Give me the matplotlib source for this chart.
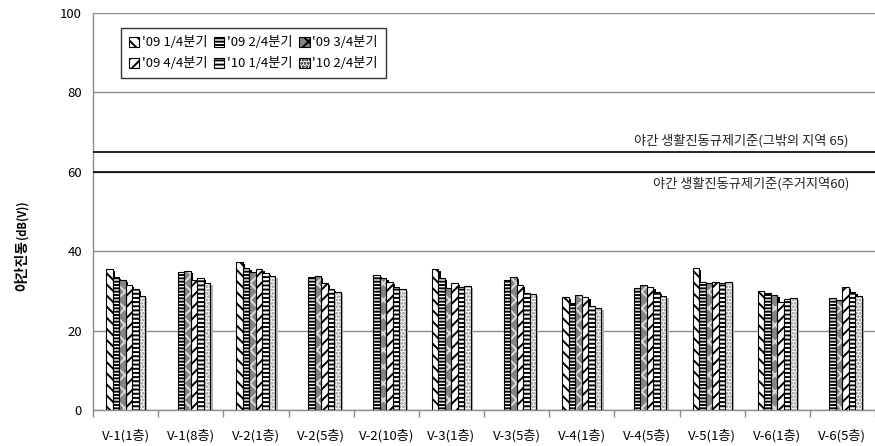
import numpy as np
import matplotlib
matplotlib.use("Agg")
import matplotlib.pyplot as plt
from matplotlib.patches import Patch

plt.rcParams['font.family'] = ['Noto Sans CJK KR', 'DejaVu Sans']
plt.rcParams['hatch.linewidth'] = 1.4

sites = ['V-1(1층)', 'V-1(8층)', 'V-2(1층)', 'V-2(5층)', 'V-2(10층)', 'V-3(1층)',
         'V-3(5층)', 'V-4(1층)', 'V-4(5층)', 'V-5(1층)', 'V-6(1층)', 'V-6(5층)']
quarters = ["'09 1/4분기", "'09 2/4분기", "'09 3/4분기",
            "'09 4/4분기", "'10 1/4분기", "'10 2/4분기"]

nan = np.nan
q09_1 = [35.4, nan, 37.2, nan, nan, 35.4, nan, 28.5, nan, 35.7, 29.9, nan]
q09_2 = [33.6, 34.8, 35.7, 33.6, 34.0, 33.2, 32.7, 26.9, 30.7, 32.2, 29.5, 28.3]
q09_3 = [32.7, 35.1, 34.8, 33.8, 33.2, 30.8, 33.4, 28.9, 31.4, 31.9, 29.0, 27.7]
q09_4 = [31.6, 32.7, 35.4, 31.9, 32.3, 31.9, 31.6, 28.5, 30.9, 32.2, 27.3, 30.9]
q10_1 = [30.5, 33.2, 34.6, 30.6, 30.9, 31.1, 29.4, 26.3, 29.6, 31.9, 28.0, 29.6]
q10_2 = [28.8, 31.9, 33.8, 29.6, 30.6, 31.3, 29.1, 25.8, 28.8, 32.3, 28.1, 28.8]
series = [q09_1, q09_2, q09_3, q09_4, q10_1, q10_2]

limit_other = 65
limit_home = 60

# fill colour, hatch pattern, hatch colour per quarter
styles = [
    ('white', '\\\\\\', 'black'),
    ('white', '-----', 'black'),
    ('#858585', 'xx', '#dcdcdc'),
    ('white', '///', 'black'),
    ('white', '----', 'black'),
    ('white', '.....', '#888888'),
]

fig = plt.figure(figsize=(8.75, 4.46), dpi=100)
ax = fig.add_axes([0.1063, 0.0807, 0.8937, 0.8902])

x = np.arange(len(sites))
w = 0.1
dx, dy = 0.035, 0.5

for j, vals in enumerate(series):
    vals = np.array(vals)
    pos = x + (j - 2.5) * w
    ok = ~np.isnan(vals)
    # drop shadow behind each bar
    shade = 'black' if j < len(series) - 1 else '#b0b0b0'
    ax.bar(pos[ok] + dx, vals[ok] - dy, width=w, color=shade, linewidth=0, zorder=2)
    fc, hatch, hc = styles[j]
    ax.bar(pos[ok], vals[ok], width=w, color=fc, hatch=hatch, edgecolor=hc,
           linewidth=0, zorder=3)
    ax.bar(pos[ok], vals[ok], width=w, fill=False, edgecolor='black',
           linewidth=0.8, zorder=4)

# regulation limits
ax.axhline(limit_other, color='black', linewidth=1.2, zorder=5)
ax.axhline(limit_home, color='black', linewidth=1.2, zorder=5)
ax.text(11.1, limit_other + 1.0, '야간 생활진동규제기준(그밖의 지역 65)', ha='right', va='bottom',
        fontsize=9.5, color='#222222')
ax.text(11.1, limit_home - 1.2, '야간 생활진동규제기준(주거지역60)', ha='right', va='top',
        fontsize=9.5, color='#222222')

ax.set_xlim(-0.5, 11.5)
ax.set_ylim(0, 100)
ax.set_yticks([0, 20, 40, 60, 80, 100])
ax.yaxis.grid(True, color='#8c8c8c', linewidth=1.0)
ax.set_axisbelow(True)
ax.tick_params(axis='y', length=0, pad=8, labelsize=9.5)

ax.set_xticks(x)
ax.set_xticklabels(sites, fontsize=9.5)
ax.set_xticks(np.arange(-0.5, 11.6, 1.0), minor=True)
ax.tick_params(axis='x', which='major', length=0, pad=14)
ax.tick_params(axis='x', which='minor', length=5, color='#8c8c8c', width=1.0)

for s in ['top', 'right']:
    ax.spines[s].set_visible(False)
for s in ['left', 'bottom']:
    ax.spines[s].set_color('#8c8c8c')
    ax.spines[s].set_linewidth(1.0)

handles = [Patch(facecolor=fc, hatch=h, edgecolor='black', linewidth=0.8)
           for fc, h, hc in styles]
# legend fills column by column, so reorder to read row by row
order = [0, 3, 1, 4, 2, 5]
leg = ax.legend([handles[k] for k in order], [quarters[k] for k in order],
                ncol=3, loc='upper left',
                bbox_to_anchor=(0.027, 0.978), fontsize=9.5, frameon=True,
                fancybox=False, edgecolor='black', handlelength=0.8, handleheight=0.8,
                handletextpad=0.2, columnspacing=0.5, borderpad=0.6, labelspacing=0.6)
leg.get_frame().set_linewidth(1.0)

fig.text(0.025, 0.405, '야간진동', rotation=90, ha='center', va='center',
         fontsize=10, fontweight='bold')
fig.text(0.025, 0.508, '(dB(V))', rotation=90, ha='center', va='center',
         fontsize=8, fontweight='bold')

fig.savefig('out.png', dpi=100)
